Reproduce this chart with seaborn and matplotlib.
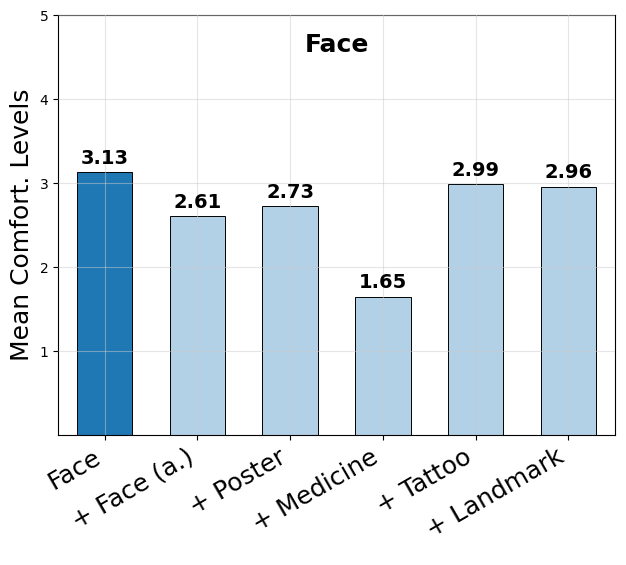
import matplotlib
matplotlib.use("Agg")
import matplotlib.pyplot as plt
import seaborn as sns

# data
conditions = ["Face", "+ Face (a.)", "+ Poster", "+ Medicine", "+ Tattoo", "+ Landmark"]
mean_comfort = [3.13, 2.61, 2.73, 1.65, 2.99, 2.96]
bar_colors = ["#1f77b4", "#b2d0e6", "#b2d0e6", "#b2d0e6", "#b2d0e6", "#b2d0e6"]

fig = plt.figure(figsize=(6.26, 5.65), dpi=100)
ax = fig.add_axes([0.093, 0.230, 0.889, 0.743])

sns.barplot(x=conditions, y=mean_comfort, hue=conditions, palette=bar_colors,
            edgecolor="black", linewidth=0.7, width=0.6, saturation=1,
            legend=False, ax=ax)

for c in ax.containers:
    ax.bar_label(c, fmt="%.2f", padding=3, fontsize=14, fontweight="bold")

ax.set_xlim(-0.5, 5.5)
ax.set_ylim(0, 5)
ax.set_yticks([1, 2, 3, 4, 5])
ax.tick_params(axis="y", labelsize=10)
ax.set_xticks(range(len(conditions)))
ax.set_xticklabels(conditions, rotation=30, ha="right", fontsize=18,
                   rotation_mode="default")
ax.set_xlabel("")
ax.set_ylabel("Mean Comfort. Levels", fontsize=18)
ax.grid(True, color="#cccccc", alpha=0.5, linewidth=0.8)
ax.set_axisbelow(False)
ax.text(0.5, 0.93, "Face", transform=ax.transAxes, ha="center", va="center",
        fontsize=18, fontweight="bold")

fig.savefig("out.png", dpi=100)
